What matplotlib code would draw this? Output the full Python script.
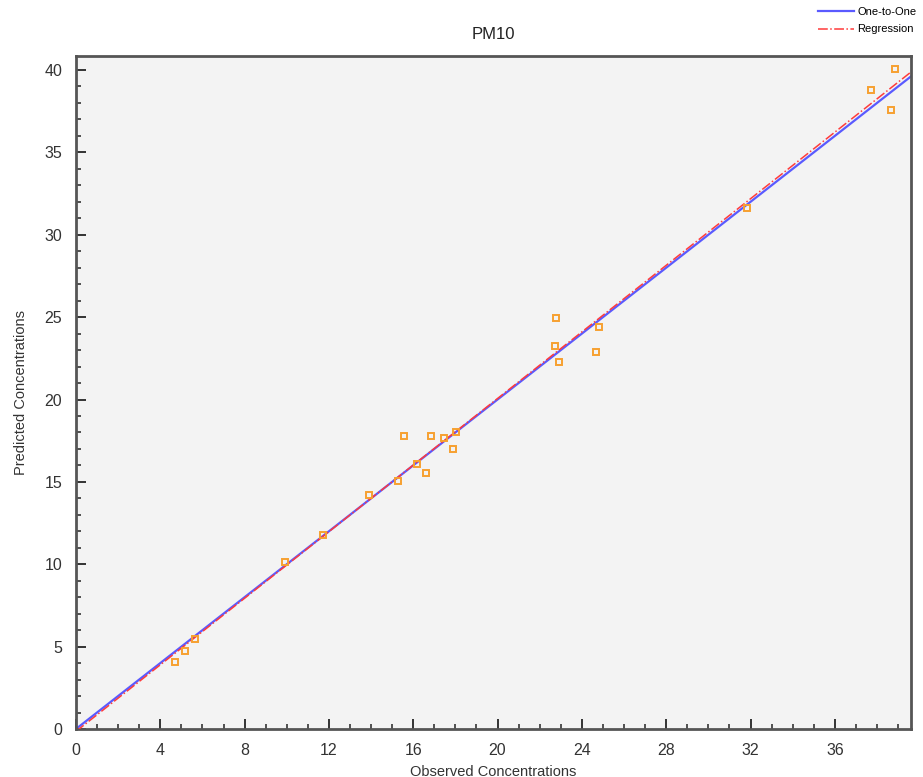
import matplotlib
matplotlib.use('Agg')

import matplotlib.pyplot as plt
import numpy as np
from matplotlib.ticker import MultipleLocator

plt.rcParams['font.family'] = ['Liberation Sans', 'DejaVu Sans']

# Observed vs predicted PM10 concentrations
observed = [4.70, 5.17, 5.65, 9.91, 11.72, 13.90, 15.27, 15.56, 16.18, 16.60,
            16.84, 17.46, 17.88, 18.03, 22.77, 22.72, 22.91, 24.67, 24.81,
            31.83, 37.71, 38.66, 38.85]
predicted = [4.07, 4.73, 5.46, 10.14, 11.78, 14.20, 15.05, 17.78, 16.09, 15.54,
             17.78, 17.66, 17.00, 18.03, 24.95, 23.25, 22.28, 22.88, 24.40,
             31.62, 38.79, 37.57, 40.06]

x_max = 39.6
y_max = 40.85

fig = plt.figure(figsize=(9.23, 7.77), dpi=100)
ax = fig.add_axes([0.0823, 0.0618, 0.9044, 0.8661])
ax.set_facecolor('#f3f3f3')

# One-to-one and regression lines
line_x = np.array([0, x_max])
ax.plot(line_x, line_x, color='#5a5aff', linewidth=1.6, label='One-to-One', zorder=2)
slope, intercept = np.polyfit(observed, predicted, 1)
ax.plot(line_x, slope * line_x + intercept, color='#ff3b3b', linewidth=1.1,
        linestyle='-.', label='Regression', zorder=3)

ax.plot(observed, predicted, linestyle='none', marker='s', markersize=5,
        markerfacecolor='none', markeredgecolor='#f7a030', markeredgewidth=1.4, zorder=4)

ax.set_xlim(0, x_max)
ax.set_ylim(0, y_max)
ax.xaxis.set_major_locator(MultipleLocator(4))
ax.xaxis.set_minor_locator(MultipleLocator(1))
ax.yaxis.set_major_locator(MultipleLocator(5))
ax.yaxis.set_minor_locator(MultipleLocator(1))
ax.tick_params(which='both', direction='in', color='#333333', labelsize=11.5,
               labelcolor='#333333', top=False, right=False)
ax.tick_params(which='major', length=7, width=1.4, pad=10)
ax.tick_params(which='minor', length=3.5, width=1.2)

for spine in ax.spines.values():
    spine.set_color('#555555')
    spine.set_linewidth(2)

ax.set_title('PM10', fontsize=12, color='#222222', pad=12)
ax.set_xlabel('Observed Concentrations', fontsize=10.5, color='#333333', labelpad=5)
ax.set_ylabel('Predicted Concentrations', fontsize=10.5, color='#333333', labelpad=12)

fig.legend(loc='upper right', bbox_to_anchor=(1.0, 1.0), fontsize=8, frameon=False,
           handlelength=3.2, handletextpad=0.3, labelspacing=0.7, borderaxespad=0.2)

plt.savefig('out.png', dpi=100)
plt.close()
